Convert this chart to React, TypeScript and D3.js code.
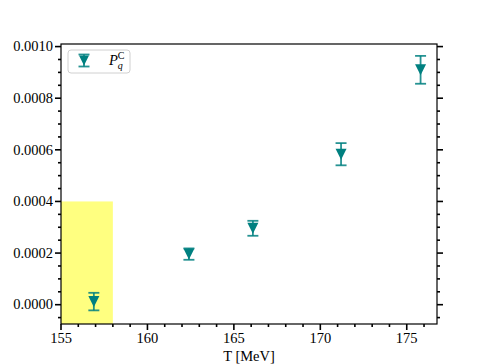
import React from 'react';
import * as d3 from 'd3';

// data
const temps = [156.9, 162.4, 166.1, 171.2, 175.8];
const values = [0.000012, 0.000196, 0.000296, 0.000583, 0.00091];
const errors = [0.000034, 0.000022, 0.000029, 0.000043, 0.000054];
const xTicks = [155, 160, 165, 170, 175];
const yTicks = [0, 0.0002, 0.0004, 0.0006, 0.0008, 0.001];
const band = { x0: 155, x1: 158, y1: 0.0004 };

const W = 486;
const H = 364;
const margin = { top: 44, right: 49, bottom: 40, left: 61 };
const TEAL = '#008080';
const FONT = '"Liberation Serif", "DejaVu Serif", serif';

export default function App() {
  const innerW = W - margin.left - margin.right;
  const innerH = H - margin.top - margin.bottom;

  const x = d3.scaleLinear().domain([155, 176.75]).range([0, innerW]);
  const y = d3.scaleLinear().domain([-0.0000748, 0.00101]).range([innerH, 0]);

  const xMinor = d3.range(155, 177, 1).filter(v => v % 5 !== 0);
  const yMinor = d3.range(-0.00005, 0.00101, 0.00005).filter(v => Math.round(v / 0.00005) % 4 !== 0);

  const tri = (cx: number, cy: number, s = 11) => {
    const h = s / 2;
    return `M${cx - h},${cy - h}L${cx + h},${cy - h}L${cx},${cy + h}Z`;
  };

  const errBar = (cx: number, yt: number, yb: number, key: string) => (
    <g key={key} stroke={TEAL} strokeOpacity={0.85} strokeWidth={1.8}>
      <line x1={cx} x2={cx} y1={yt} y2={yb} />
      <line x1={cx - 5.5} x2={cx + 5.5} y1={yt} y2={yt} />
      <line x1={cx - 5.5} x2={cx + 5.5} y1={yb} y2={yb} />
    </g>
  );

  return (
    <svg width={W} height={H} style={{ position: 'absolute', left: 0, top: 0, background: '#fff' }}
      fontFamily={FONT}>
      <g transform={`translate(${margin.left},${margin.top})`}>
        {/* yellow band */}
        <rect x={x(band.x0)} width={x(band.x1) - x(band.x0)} y={y(band.y1)} height={innerH - y(band.y1)}
          fill="#ffff80" />

        {/* data */}
        {temps.map((t, i) => {
          const cx = x(t);
          return (
            <g key={i}>
              {errBar(cx, y(values[i] + errors[i]), y(values[i] - errors[i]), 'e' + i)}
              <path d={tri(cx, y(values[i]))} fill={TEAL} />
            </g>
          );
        })}

        {/* frame */}
        <rect x={0} y={0} width={innerW} height={innerH} fill="none" stroke="#000" strokeWidth={1.2} />

        {/* x ticks */}
        {xTicks.map(t => (
          <g key={'xt' + t} transform={`translate(${x(t)},${innerH})`}>
            <line y1={0} y2={6} stroke="#000" strokeWidth={1.6} />
            <text y={19} textAnchor="middle" fontSize={14.5} fill="#000">{t}</text>
          </g>
        ))}
        {xMinor.map(t => (
          <line key={'xm' + t} x1={x(t)} x2={x(t)} y1={innerH} y2={innerH + 3} stroke="#000" strokeWidth={1.6} />
        ))}

        {/* y ticks, left and right */}
        {yTicks.map(t => (
          <g key={'yt' + t} transform={`translate(0,${y(t)})`}>
            <line x1={-6} x2={0} stroke="#000" strokeWidth={1.6} />
            <line x1={innerW} x2={innerW + 6} stroke="#000" strokeWidth={1.6} />
            <text x={-8} dy="0.33em" textAnchor="end" fontSize={14.5} fill="#000">{t.toFixed(4)}</text>
          </g>
        ))}
        {yMinor.map(t => (
          <g key={'ym' + t} transform={`translate(0,${y(t)})`}>
            <line x1={-3} x2={0} stroke="#000" strokeWidth={1.6} />
            <line x1={innerW} x2={innerW + 3} stroke="#000" strokeWidth={1.6} />
          </g>
        ))}

        {/* x label */}
        <text x={innerW / 2} y={innerH + 37} textAnchor="middle" fontSize={14.5} fill="#000">T [MeV]</text>

        {/* legend */}
        <g transform="translate(7,6)">
          <rect width={62} height={23} rx={3} fill="#fff" fillOpacity={0.8} stroke="#d0d0d0" strokeWidth={1} />
          {errBar(16, 4.5, 16.5, 'leg')}
          <path d={tri(16, 10.5, 10)} fill={TEAL} />
          <text x={41} y={15} fontSize={14.5} fill="#000">
            <tspan fontStyle="italic">P</tspan>
            <tspan fontStyle="italic" fontSize={10} dy={4}>q</tspan>
            <tspan fontSize={10} dx={-5} dy={-10}>C</tspan>
          </text>
        </g>
      </g>
    </svg>
  );
}
